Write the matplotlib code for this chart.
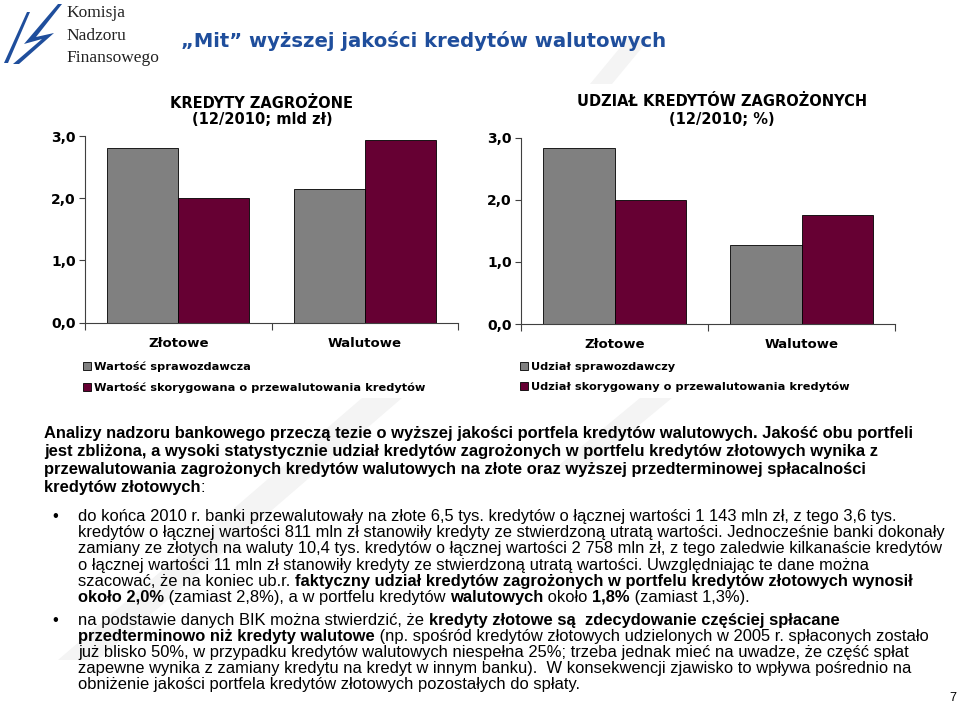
import matplotlib
matplotlib.use("Agg")
import matplotlib.pyplot as plt
from matplotlib.patches import Polygon
from matplotlib.font_manager import FontProperties

W, H = 960, 705

# chart data
categories = ["Złotowe", "Walutowe"]
left_reported = [2.80, 2.15]
left_adjusted = [2.00, 2.94]
right_reported = [2.84, 1.27]
right_adjusted = [2.00, 1.76]

left_title = ["KREDYTY ZAGROŻONE", "(12/2010; mld zł)"]
right_title = ["UDZIAŁ KREDYTÓW ZAGROŻONYCH", "(12/2010; %)"]
left_legend = ["Wartość sprawozdawcza", "Wartość skorygowana o przewalutowania kredytów"]
right_legend = ["Udział sprawozdawczy", "Udział skorygowany o przewalutowania kredytów"]
y_ticks = [0, 1, 2, 3]
y_ticklabels = ["0,0", "1,0", "2,0", "3,0"]

slide_title = "\u201eMit\u201d wyższej jakości kredytów walutowych"
logo_lines = ["Komisja", "Nadzoru", "Finansowego"]

# body text: list of paragraphs, each a list of lines made of (text, bold) runs
intro = [
    [("Analizy nadzoru bankowego przeczą tezie o wyższej jakości portfela kredytów walutowych. Jakość obu portfeli", True)],
    [("jest zbliżona, a wysoki statystycznie udział kredytów zagrożonych w portfelu kredytów złotowych wynika z", True)],
    [("przewalutowania zagrożonych kredytów walutowych na złote oraz wyższej przedterminowej spłacalności", True)],
    [("kredytów złotowych", True), (":", False)],
]
bullet1 = [
    [("do końca 2010 r. banki przewalutowały na złote 6,5 tys. kredytów o łącznej wartości 1 143 mln zł, z tego 3,6 tys.", False)],
    [("kredytów o łącznej wartości 811 mln zł stanowiły kredyty ze stwierdzoną utratą wartości. Jednocześnie banki dokonały", False)],
    [("zamiany ze złotych na waluty 10,4 tys. kredytów o łącznej wartości 2 758 mln zł, z tego zaledwie kilkanaście kredytów", False)],
    [("o łącznej wartości 11 mln zł stanowiły kredyty ze stwierdzoną utratą wartości. Uwzględniając te dane można", False)],
    [("szacować, że na koniec ub.r. ", False),
     ("faktyczny udział kredytów zagrożonych w portfelu kredytów złotowych wynosił", True)],
    [("około 2,0%", True), (" (zamiast 2,8%), a w portfelu kredytów ", False), ("walutowych", True),
     (" około ", False), ("1,8%", True), (" (zamiast 1,3%).", False)],
]
bullet2 = [
    [("na podstawie danych BIK można stwierdzić, że ", False),
     ("kredyty złotowe są  zdecydowanie częściej spłacane", True)],
    [("przedterminowo niż kredyty walutowe", True),
     (" (np. spośród kredytów złotowych udzielonych w 2005 r. spłaconych zostało", False)],
    [("już blisko 50%, w przypadku kredytów walutowych niespełna 25%; trzeba jednak mieć na uwadze, że część spłat", False)],
    [("zapewne wynika z zamiany kredytu na kredyt w innym banku).  W konsekwencji zjawisko to wpływa pośrednio na", False)],
    [("obniżenie jakości portfela kredytów złotowych pozostałych do spłaty.", False)],
]

GREY = "#808080"
MAROON = "#660033"
BLUE = "#1F4E9C"


def fx(x):
    return x / W


def fy(y):
    return 1 - y / H


fig = plt.figure(figsize=(W / 100, H / 100), dpi=100)
fig.patch.set_facecolor("white")
renderer = fig.canvas.get_renderer()


def text_width(s, prop):
    # bars around the string so spaces at the ends are counted
    w1 = renderer.get_text_width_height_descent("|" + s + "|", prop, ismath=False)[0]
    w0 = renderer.get_text_width_height_descent("||", prop, ismath=False)[0]
    return w1 - w0


# faint watermark strokes behind everything
for pts in [
    [(362, 398), (402, 398), (98, 660), (58, 660)],
    [(640, 398), (672, 398), (585, 470), (553, 470)],
    [(628, 38), (650, 38), (612, 84), (590, 84)],
]:
    fig.patches.append(Polygon([(fx(x), fy(y)) for x, y in pts], closed=True,
                               transform=fig.transFigure, facecolor="#f4f4f4",
                               edgecolor="none", zorder=0))

# logo
for pts in [
    [(4, 63), (8, 63), (30, 12), (27, 12)],
    [(58, 4), (24, 44), (42, 39), (13, 64), (19, 64), (54, 33), (36, 37), (62, 4)],
]:
    fig.patches.append(Polygon([(fx(x), fy(y)) for x, y in pts], closed=True,
                               transform=fig.transFigure, facecolor=BLUE,
                               edgecolor="none", zorder=2))
for i, s in enumerate(logo_lines):
    fig.text(fx(66), fy(13 + i * 22.5), s, family="Liberation Serif", fontsize=12.5,
             color="#222222", va="center", ha="left")

# slide title, sized to its width on the slide
title_prop = FontProperties(family="DejaVu Sans", weight="bold", size=10)
title_size = 10 * 484 / text_width(slide_title, title_prop)
fig.text(fx(181), fy(41), slide_title, family="DejaVu Sans", weight="bold",
         fontsize=title_size, color=BLUE, va="center", ha="left")


def bar_panel(rect, reported, adjusted, title, labels, title_x, title_ys, legend_xy):
    ax = fig.add_axes(rect)
    x = range(len(categories))
    w = 0.38
    b1 = ax.bar([i - w / 2 for i in x], reported, w, color=GREY, edgecolor="black",
                linewidth=0.6, label=labels[0])
    b2 = ax.bar([i + w / 2 for i in x], adjusted, w, color=MAROON, edgecolor="black",
                linewidth=0.6, label=labels[1])
    ax.set_xlim(-0.5, len(categories) - 0.5)
    ax.set_ylim(0, 3)
    ax.set_yticks(y_ticks)
    ax.set_yticklabels(y_ticklabels, fontsize=10, fontweight="bold", family="DejaVu Sans")
    ax.set_xticks([i - 0.5 for i in range(len(categories) + 1)])
    ax.set_xticklabels([])
    ax.set_xticks(list(x), minor=True)
    ax.set_xticklabels(categories, minor=True, fontsize=9.5, fontweight="bold",
                       family="DejaVu Sans")
    ax.tick_params(axis="x", which="minor", length=0, pad=10)
    ax.tick_params(axis="x", which="major", length=5, width=0.8, color="#404040")
    ax.tick_params(axis="y", length=4, width=0.8, color="#404040", pad=2.5)
    for side in ["top", "right"]:
        ax.spines[side].set_visible(False)
    for side in ["left", "bottom"]:
        ax.spines[side].set_color("#404040")
        ax.spines[side].set_linewidth(0.8)
    ax.patch.set_alpha(0)
    for s, ty in zip(title, title_ys):
        fig.text(fx(title_x), fy(ty), s, ha="center", va="center", fontsize=10.5,
                 fontweight="bold", family="DejaVu Sans")
    fig.legend(handles=[b1, b2], loc="upper left",
               bbox_to_anchor=(fx(legend_xy[0]), fy(legend_xy[1])),
               frameon=False, prop=FontProperties(family="DejaVu Sans", weight="bold", size=8.2),
               handlelength=0.7, handleheight=0.7, handletextpad=0.25,
               labelspacing=0.85, borderpad=0, borderaxespad=0)
    return ax


bar_panel([fx(85), fy(322.7), 373 / W, 186.7 / H], left_reported, left_adjusted,
          left_title, left_legend, 262, [103, 119], (83, 361))
bar_panel([fx(521), fy(324), 374 / W, 186.3 / H], right_reported, right_adjusted,
          right_title, right_legend, 722, [102, 120], (520, 362))

# body text
body_prop = FontProperties(family="Liberation Sans", weight="bold", size=10)
body_size = 10 * 873 / text_width(intro[0][0][0], body_prop)


def draw_line(x, y, runs):
    for s, bold in runs:
        prop = FontProperties(family="Liberation Sans",
                              weight="bold" if bold else "normal", size=body_size)
        fig.text(fx(x), fy(y), s, fontproperties=prop, va="baseline", ha="left",
                 color="black")
        x += text_width(s, prop)


# (first baseline, line pitch) per block
for j, (para, y0, pitch) in enumerate([(intro, 438, 18), (bullet1, 521, 16.2),
                                       (bullet2, 624.5, 16)]):
    x0 = 44 if j == 0 else 78
    if j > 0:
        fig.text(fx(52), fy(y0), "\u2022", family="Liberation Sans", fontsize=body_size,
                 va="baseline", ha="left")
    for k, line in enumerate(para):
        draw_line(x0, y0 + k * pitch, line)

fig.text(fx(953), fy(698), "7", family="Liberation Sans", fontsize=9, va="center",
         ha="center")

fig.savefig("out.png", dpi=100, facecolor="white")
